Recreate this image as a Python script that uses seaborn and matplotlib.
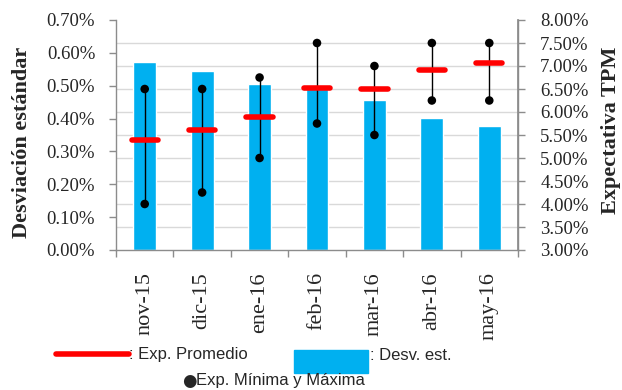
import numpy as np
import matplotlib
matplotlib.use("Agg")
import matplotlib.pyplot as plt
import seaborn as sns
from matplotlib.ticker import FuncFormatter, FixedLocator
from matplotlib.lines import Line2D
from matplotlib.patches import Rectangle

# Monthly data
meses = ['nov-15', 'dic-15', 'ene-16', 'feb-16', 'mar-16', 'abr-16', 'may-16']
desv_est = [0.572, 0.544, 0.505, 0.490, 0.456, 0.403, 0.377]    # % (left axis)
exp_prom = [5.39, 5.61, 5.90, 6.53, 6.49, 6.91, 7.07]           # % (right axis)
exp_min = [4.00, 4.25, 5.00, 5.75, 5.50, 6.25, 6.25]
exp_max = [6.50, 6.50, 6.75, 7.50, 7.00, 7.50, 7.50]

left_ticks = [0.0, 0.1, 0.2, 0.3, 0.4, 0.5, 0.6, 0.7]
right_ticks = [3.0, 3.5, 4.0, 4.5, 5.0, 5.5, 6.0, 6.5, 7.0, 7.5, 8.0]

sns.set_theme(style="white")
plt.rcParams['font.family'] = ['Liberation Serif', 'DejaVu Serif']

BLUE = '#00B0F0'
RED = '#FF0000'
SPINE = '#8c8c8c'
GRID = '#d9d9d9'

fig = plt.figure(figsize=(6.22, 3.90), dpi=100)
ax = fig.add_axes([116/622, 1-250/390, (518-116)/622, 230/390])

sns.barplot(x=meses, y=desv_est, color=BLUE, saturation=1, width=0.4, ax=ax, zorder=2)
ax.set_xlim(-0.5, len(meses) - 0.5)
ax.set_ylim(0, 0.7)
ax.set_yticks(left_ticks)
ax.yaxis.set_major_formatter(FuncFormatter(lambda v, p: f"{v:.2f}%"))
# gridlines follow the right-hand scale
ax.set_yticks(np.linspace(0, 0.7, len(right_ticks)), minor=True)
ax.grid(True, which='minor', axis='y', color=GRID, lw=1, zorder=0)
ax.grid(False, which='major')
ax.set_axisbelow(True)

xpos = np.arange(len(meses))
ax.set_xticks(xpos)
ax.set_xticklabels(meses, rotation=90, fontsize=16)
ax.xaxis.set_minor_locator(FixedLocator(np.arange(-0.5, len(meses), 1.0)))
ax.tick_params(axis='x', which='major', length=0, pad=16)
ax.tick_params(axis='x', which='minor', length=5, color=SPINE, width=1, bottom=True)
ax.tick_params(axis='y', which='major', length=5, color=SPINE, width=1, labelsize=13.5, left=True, pad=10)
ax.tick_params(axis='y', which='minor', length=0)
ax.set_xlabel('')
ax.set_ylabel('Desviación estándar', fontsize=16, fontweight='bold')
ax.yaxis.set_label_coords(-(116-32)/402, (250-142)/230)

ax.spines['top'].set_visible(False)
for s in ['left', 'bottom', 'right']:
    ax.spines[s].set_color(SPINE)
    ax.spines[s].set_linewidth(1)

ax2 = ax.twinx()
ax2.set_ylim(3.0, 8.0)
ax2.set_yticks(right_ticks)
ax2.yaxis.set_major_formatter(FuncFormatter(lambda v, p: f"{v:.2f}%"))
ax2.tick_params(axis='y', length=5, color=SPINE, width=1, labelsize=13.5, right=True, pad=11)
for s in ['top', 'left', 'bottom']:
    ax2.spines[s].set_visible(False)
ax2.spines['right'].set_color(SPINE)
ax2.grid(False)

ax2.vlines(xpos, exp_min, exp_max, color='black', lw=1, zorder=3)
ax2.hlines(exp_prom, xpos - 0.23, xpos + 0.23, color=RED, lw=4, zorder=4, capstyle='round')
sns.scatterplot(x=np.concatenate([xpos, xpos]), y=exp_min + exp_max, color='black',
                s=38, edgecolor='none', ax=ax2, zorder=5, legend=False)
ax2.set_xlim(-0.5, len(meses) - 0.5)
ax2.set_ylabel('Expectativa TPM', fontsize=16, fontweight='bold', rotation=90)
ax2.yaxis.set_label_coords((601-116)/402, (250-130)/230)

# Legend drawn below the axes
leg_font = dict(family=['Liberation Sans', 'DejaVu Sans'], fontsize=12)

fig.add_artist(Line2D([56/622, 129/622], [1-353.5/390, 1-353.5/390], color=RED, lw=4,
                      transform=fig.transFigure))
fig.text(129/622, 1-355/390, ': Exp. Promedio', va='center', ha='left', **leg_font)
fig.add_artist(Rectangle((294/622, 1-373/390), 74/622, 23/390, color=BLUE,
                         transform=fig.transFigure))
fig.text(370/622, 1-355/390, ': Desv. est.', va='center', ha='left', **leg_font)
fig.text(182/622, 1-381/390, '●', va='center', ha='left', family='DejaVu Sans', fontsize=12)
fig.text(196/622, 1-381/390, 'Exp. Mínima y Máxima', va='center', ha='left', **leg_font)

fig.savefig('out.png', dpi=100)
